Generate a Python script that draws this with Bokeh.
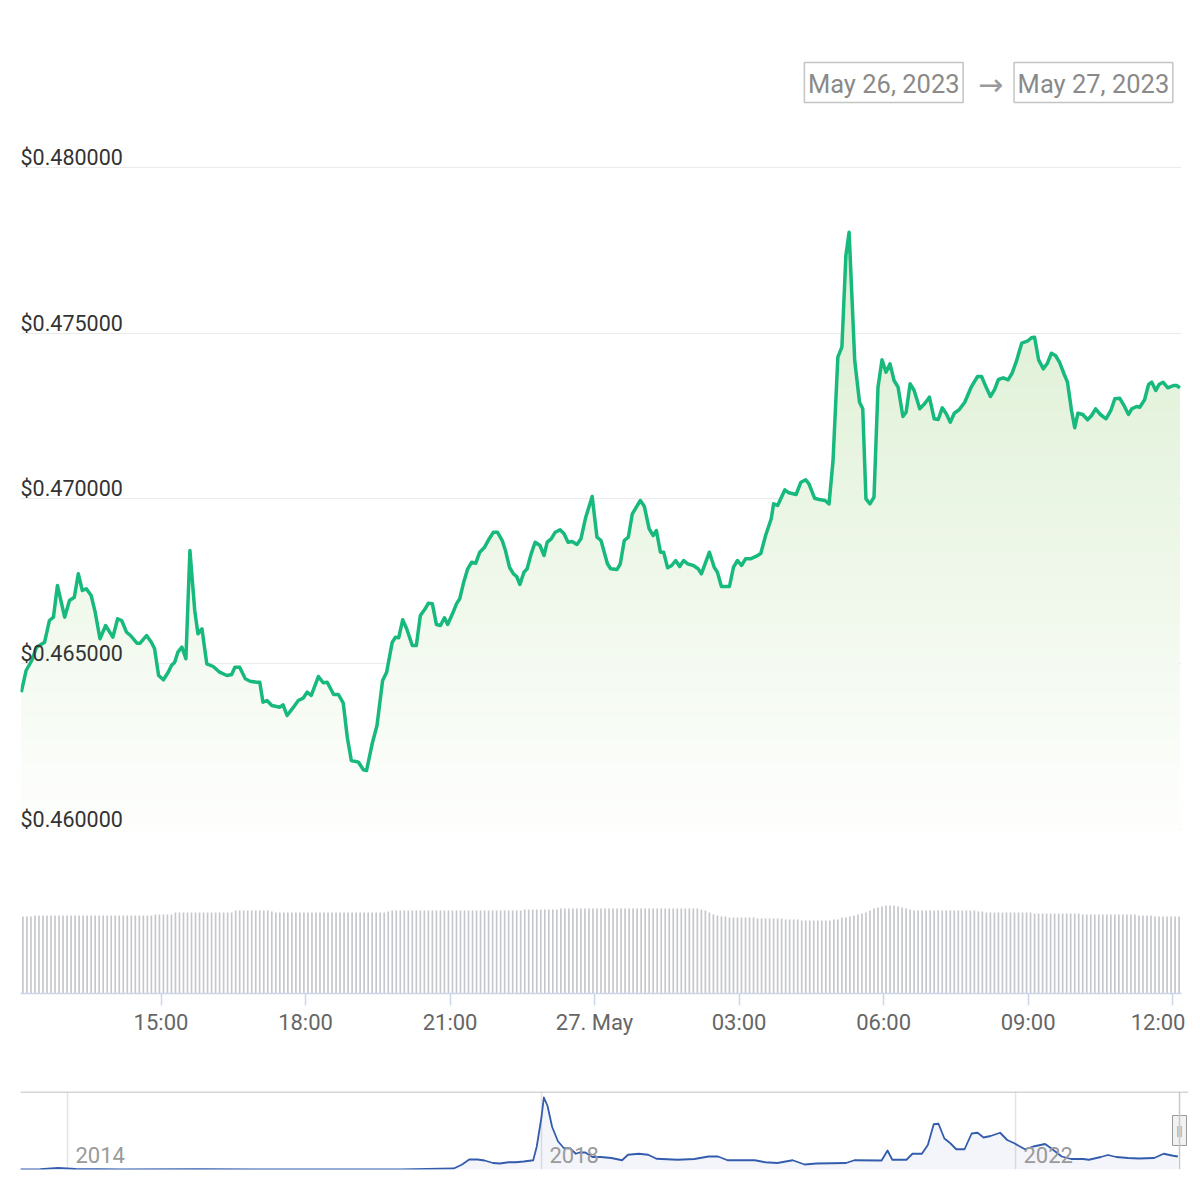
import numpy as np
import pandas as pd
from bokeh.plotting import figure
from bokeh.layouts import column
from bokeh.models import Range1d, FixedTicker, Grid, Span
from bokeh.core.properties import value
from bokeh.embed import file_html
from bokeh.resources import INLINE

FONT = "Roboto"

# ---------------- data ----------------
date_from_label = "May 26, 2023"
date_to_label = "May 27, 2023"
arrow_label = "\u2192"

# minutes after 2023-05-26 00:00
price_minutes = [
    726, 732, 739, 745, 755, 761, 766, 771, 780, 786,
    792, 797, 802, 807, 813, 818, 824, 831, 840, 846,
    851, 857, 862, 870, 874, 882, 888, 892, 897, 903,
    909, 913, 917, 921, 926, 931, 936, 942, 946, 951,
    957, 965, 973, 982, 988, 992, 998, 1005, 1011, 1019,
    1023, 1027, 1032, 1038, 1048, 1052, 1057, 1065, 1071, 1077,
    1082, 1087, 1096, 1102, 1107, 1115, 1121, 1127, 1132, 1137,
    1141, 1146, 1152, 1156, 1163, 1169, 1176, 1181, 1188, 1192,
    1196, 1201, 1206, 1213, 1218, 1223, 1229, 1233, 1238, 1243,
    1248, 1253, 1257, 1263, 1268, 1272, 1277, 1282, 1287, 1292,
    1297, 1303, 1308, 1314, 1319, 1325, 1329, 1334, 1339, 1343,
    1347, 1352, 1356, 1361, 1366, 1372, 1377, 1381, 1386, 1391,
    1397, 1402, 1407, 1412, 1418, 1423, 1429, 1437, 1443, 1448,
    1456, 1460, 1468, 1472, 1477, 1482, 1487, 1497, 1502, 1508,
    1513, 1517, 1522, 1526, 1531, 1536, 1541, 1546, 1551, 1556,
    1563, 1569, 1573, 1583, 1589, 1593, 1598, 1608, 1613, 1618,
    1623, 1628, 1634, 1641, 1647, 1653, 1660, 1663, 1668, 1677,
    1682, 1691, 1697, 1703, 1707, 1714, 1720, 1727, 1732, 1737,
    1743, 1748, 1753, 1757, 1760, 1764, 1770, 1774, 1778, 1783,
    1788, 1793, 1798, 1803, 1808, 1813, 1818, 1824, 1828, 1833,
    1838, 1845, 1851, 1857, 1863, 1868, 1873, 1878, 1883, 1888,
    1894, 1901, 1909, 1917, 1922, 1928, 1933, 1938, 1943, 1949,
    1955, 1960, 1965, 1972, 1979, 1984, 1988, 1993, 1999, 2004,
    2009, 2014, 2019, 2025, 2029, 2034, 2038, 2042, 2048, 2054,
    2059, 2064, 2070, 2077, 2083, 2088, 2094, 2100, 2105, 2109,
    2115, 2119, 2125, 2130, 2134, 2139, 2143, 2148, 2154, 2161,
    2165, 2169,
]

price_usd = [
    0.464148, 0.464804, 0.465106, 0.465508, 0.465659, 0.466314, 0.466414, 0.467372, 0.466414, 0.466918,
    0.467018, 0.467725, 0.467221, 0.467272, 0.467069, 0.466565, 0.465761, 0.466163, 0.465810, 0.466366,
    0.466314, 0.465961, 0.465861, 0.465628, 0.465628, 0.465861, 0.465659, 0.465459, 0.464653, 0.464523,
    0.464752, 0.464955, 0.465054, 0.465356, 0.465508, 0.465157, 0.468429, 0.466616, 0.465912, 0.466063,
    0.465006, 0.464924, 0.464752, 0.464653, 0.464683, 0.464903, 0.464903, 0.464553, 0.464480, 0.464450,
    0.464450, 0.463846, 0.463897, 0.463746, 0.463695, 0.463767, 0.463444, 0.463695, 0.463897, 0.463967,
    0.464148, 0.464048, 0.464622, 0.464432, 0.464450, 0.464079, 0.464079, 0.463816, 0.462789, 0.462085,
    0.462064, 0.462033, 0.461804, 0.461782, 0.462589, 0.463142, 0.464502, 0.464752, 0.465659, 0.465810,
    0.465792, 0.466335, 0.466063, 0.465559, 0.465559, 0.466465, 0.466668, 0.466837, 0.466818, 0.466193,
    0.466163, 0.466396, 0.466193, 0.466517, 0.466818, 0.466970, 0.467471, 0.467876, 0.468076, 0.468046,
    0.468378, 0.468529, 0.468752, 0.468982, 0.468982, 0.468731, 0.468429, 0.467924, 0.467725, 0.467644,
    0.467402, 0.467773, 0.467876, 0.468329, 0.468680, 0.468580, 0.468278, 0.468680, 0.468782, 0.468982,
    0.469054, 0.468933, 0.468680, 0.468701, 0.468610, 0.468782, 0.469435, 0.470060, 0.468831, 0.468731,
    0.468027, 0.467876, 0.467855, 0.468027, 0.468731, 0.468831, 0.469538, 0.469940, 0.469758, 0.469085,
    0.468882, 0.469033, 0.468378, 0.468378, 0.467906, 0.467976, 0.468127, 0.467946, 0.468127, 0.468027,
    0.467976, 0.467876, 0.467725, 0.468378, 0.467924, 0.467773, 0.467341, 0.467341, 0.467924, 0.468127,
    0.467976, 0.468178, 0.468178, 0.468248, 0.468338, 0.468882, 0.469387, 0.469840, 0.469789, 0.470263,
    0.470172, 0.470121, 0.470492, 0.470565, 0.470444, 0.470009, 0.469970, 0.469940, 0.469840, 0.471148,
    0.474269, 0.474571, 0.477341, 0.478045, 0.476384, 0.474169, 0.472909, 0.472710, 0.469991, 0.469840,
    0.470039, 0.473363, 0.474190, 0.473816, 0.474069, 0.473565, 0.473363, 0.472477, 0.472607, 0.473465,
    0.473263, 0.472710, 0.472861, 0.473060, 0.472408, 0.472387, 0.472740, 0.472559, 0.472305, 0.472577,
    0.472680, 0.472909, 0.473363, 0.473686, 0.473686, 0.473344, 0.473082, 0.473284, 0.473595, 0.473646,
    0.473586, 0.473785, 0.474118, 0.474692, 0.474752, 0.474855, 0.474873, 0.474190, 0.473918, 0.474088,
    0.474390, 0.474320, 0.474118, 0.473746, 0.473514, 0.472659, 0.472136, 0.472577, 0.472538, 0.472378,
    0.472508, 0.472710, 0.472538, 0.472408, 0.472659, 0.473012, 0.473030, 0.472780, 0.472538, 0.472710,
    0.472780, 0.472759, 0.472982, 0.473444, 0.473514, 0.473263, 0.473444, 0.473514, 0.473344, 0.473414,
    0.473414, 0.473344,
]

y_ticks = [0.460, 0.465, 0.470, 0.475, 0.480]
y_tick_labels = ["$0.460000", "$0.465000", "$0.470000", "$0.475000", "$0.480000"]

x_tick_times = ["2023-05-26 15:00", "2023-05-26 18:00", "2023-05-26 21:00", "2023-05-27 00:00",
                "2023-05-27 03:00", "2023-05-27 06:00", "2023-05-27 09:00", "2023-05-27 12:00"]
x_tick_labels = ["15:00", "18:00", "21:00", "27. May", "03:00", "06:00", "09:00", "12:00"]

# 24h volume (USD bn), one bar every 5 minutes from 2023-05-26 12:08
volume_first_bar = "2023-05-26 12:08"
volume_bn = [
    0.77, 0.77, 0.77, 0.78, 0.78, 0.78, 0.78, 0.78, 0.78, 0.78, 0.78, 0.78,
    0.78, 0.78, 0.78, 0.78, 0.78, 0.78, 0.78, 0.78, 0.78, 0.78, 0.78, 0.78,
    0.78, 0.78, 0.78, 0.78, 0.78, 0.78, 0.78, 0.78, 0.78, 0.79, 0.79, 0.79,
    0.79, 0.79, 0.81, 0.81, 0.81, 0.81, 0.81, 0.81, 0.81, 0.81, 0.81, 0.81,
    0.81, 0.81, 0.81, 0.81, 0.81, 0.83, 0.83, 0.83, 0.83, 0.83, 0.83, 0.83,
    0.83, 0.83, 0.82, 0.81, 0.81, 0.81, 0.81, 0.81, 0.81, 0.81, 0.81, 0.81,
    0.81, 0.81, 0.81, 0.81, 0.81, 0.81, 0.81, 0.81, 0.81, 0.81, 0.81, 0.81,
    0.81, 0.81, 0.81, 0.81, 0.81, 0.81, 0.81, 0.82, 0.83, 0.83, 0.83, 0.83,
    0.83, 0.83, 0.83, 0.83, 0.83, 0.83, 0.83, 0.83, 0.83, 0.83, 0.83, 0.83,
    0.83, 0.83, 0.83, 0.83, 0.83, 0.83, 0.83, 0.83, 0.83, 0.83, 0.83, 0.83,
    0.83, 0.83, 0.83, 0.83, 0.83, 0.84, 0.84, 0.84, 0.84, 0.84, 0.84, 0.84,
    0.84, 0.84, 0.85, 0.85, 0.85, 0.85, 0.85, 0.85, 0.85, 0.85, 0.85, 0.85,
    0.85, 0.85, 0.85, 0.85, 0.85, 0.85, 0.85, 0.85, 0.85, 0.85, 0.85, 0.85,
    0.85, 0.85, 0.85, 0.85, 0.85, 0.85, 0.85, 0.85, 0.85, 0.85, 0.85, 0.85,
    0.85, 0.84, 0.83, 0.81, 0.79, 0.78, 0.77, 0.77, 0.76, 0.76, 0.76, 0.76,
    0.76, 0.76, 0.76, 0.75, 0.75, 0.75, 0.75, 0.75, 0.75, 0.75, 0.74, 0.74,
    0.74, 0.74, 0.73, 0.73, 0.73, 0.73, 0.73, 0.73, 0.73, 0.73, 0.74, 0.74,
    0.76, 0.76, 0.77, 0.78, 0.79, 0.80, 0.81, 0.83, 0.85, 0.86, 0.87, 0.88,
    0.88, 0.88, 0.87, 0.86, 0.85, 0.84, 0.83, 0.83, 0.83, 0.83, 0.83, 0.83,
    0.83, 0.83, 0.83, 0.83, 0.83, 0.83, 0.83, 0.83, 0.83, 0.83, 0.82, 0.82,
    0.81, 0.81, 0.81, 0.81, 0.81, 0.81, 0.81, 0.81, 0.81, 0.81, 0.81, 0.81,
    0.80, 0.80, 0.80, 0.80, 0.80, 0.80, 0.80, 0.80, 0.80, 0.80, 0.80, 0.80,
    0.79, 0.79, 0.79, 0.79, 0.79, 0.79, 0.79, 0.79, 0.79, 0.79, 0.79, 0.79,
    0.79, 0.79, 0.78, 0.78, 0.78, 0.78, 0.77, 0.77, 0.77, 0.77, 0.77, 0.77,
    0.77,
]

# navigator: full price history (decimal year, USD)
nav_years = [
    2013.60, 2013.77, 2013.92, 2014.07, 2014.45, 2015.12, 2015.97, 2016.81, 2017.26, 2017.33,
    2017.39, 2017.46, 2017.52, 2017.59, 2017.65, 2017.72, 2017.78, 2017.85, 2017.93, 2017.96,
    2018.00, 2018.02, 2018.05, 2018.09, 2018.14, 2018.19, 2018.24, 2018.29, 2018.32, 2018.37,
    2018.43, 2018.50, 2018.59, 2018.68, 2018.73, 2018.82, 2018.90, 2018.97, 2019.15, 2019.29,
    2019.41, 2019.49, 2019.57, 2019.80, 2019.89, 2019.99, 2020.12, 2020.22, 2020.32, 2020.57,
    2020.64, 2020.87, 2020.92, 2020.96, 2021.08, 2021.13, 2021.21, 2021.26, 2021.31, 2021.35,
    2021.40, 2021.45, 2021.50, 2021.57, 2021.63, 2021.68, 2021.73, 2021.79, 2021.87, 2021.93,
    2021.99, 2022.03, 2022.08, 2022.15, 2022.25, 2022.30, 2022.39, 2022.47, 2022.57, 2022.62,
    2022.72, 2022.78, 2022.85, 2022.95, 2023.04, 2023.17, 2023.25, 2023.33, 2023.37,
]
nav_price = [
    0.005, 0.01, 0.06, 0.02, 0.005, 0.01, 0.006, 0.007, 0.04, 0.20,
    0.40, 0.40, 0.36, 0.26, 0.24, 0.29, 0.29, 0.32, 0.37, 0.92,
    2.10, 2.88, 2.56, 1.70, 1.12, 0.85, 0.85, 0.63, 0.68, 0.68,
    0.50, 0.50, 0.46, 0.37, 0.59, 0.63, 0.59, 0.43, 0.39, 0.42,
    0.52, 0.52, 0.37, 0.37, 0.29, 0.26, 0.37, 0.20, 0.24, 0.26,
    0.37, 0.36, 0.76, 0.39, 0.39, 0.63, 0.63, 0.98, 1.81, 1.83,
    1.24, 1.05, 0.81, 0.81, 1.44, 1.47, 1.28, 1.34, 1.47, 1.18,
    1.05, 0.94, 0.81, 0.92, 1.02, 0.85, 0.52, 0.42, 0.42, 0.39,
    0.50, 0.58, 0.50, 0.46, 0.44, 0.46, 0.63, 0.55, 0.52,
]
nav_tick_years = [2014, 2018, 2022]
nav_tick_labels = ["2014", "2018", "2022"]

# ---------------- helpers ----------------
def ms(ts):
    return pd.Timestamp(ts).value / 1e6

base_ms = ms("2023-05-26 00:00")
t_price = np.array([base_ms + m * 60000.0 for m in price_minutes])
p_price = np.array(price_usd)
t_vol = np.array([ms(t) for t in pd.date_range(volume_first_bar, periods=len(volume_bn), freq="5min")])
x_ticks_ms = [ms(t) for t in x_tick_times]

W = 1192
LINE_GREEN = "#17b97d"

# ---------------- header (date range boxes) ----------------
HH = 140
hdr = figure(width=W, height=HH, x_range=Range1d(0, W), y_range=Range1d(HH, 0),
             output_backend="svg", toolbar_location=None,
             min_border=0, min_border_left=0, min_border_right=0,
             min_border_top=0, min_border_bottom=0,
             x_axis_location=None, y_axis_location=None)
hdr.outline_line_color = None
hdr.grid.visible = False
hdr.rect(x=[881, 1095], y=[82, 82], width=[162, 162], height=[40, 40],
         fill_color=None, line_color="#c4c4c4", line_width=1.5)
hdr.text(x=[881, 1095], y=[83, 83], text=[date_from_label, date_to_label],
         text_align="center", text_baseline="middle", text_font=value(FONT),
         text_font_size="25.5px", text_color="#8a8a8a")
hdr.text(x=[990], y=[84], text=[arrow_label], text_align="center", text_baseline="middle",
         text_font=value("DejaVu Sans"), text_font_size="30px", text_color="#9a9a9a")

# ---------------- main price + volume chart ----------------
t0 = ms("2023-05-26 12:05")
t1 = ms("2023-05-27 12:11")
y_lo, y_hi = 0.455045, 0.480816
p = figure(width=1185, height=920, x_range=Range1d(t0, t1), y_range=Range1d(y_lo, y_hi),
           output_backend="svg", toolbar_location=None,
           min_border=0, min_border_left=20, min_border_right=0, min_border_top=0,
           min_border_bottom=67, y_axis_location=None)
p.outline_line_color = None
p.grid.visible = False
p.add_layout(Grid(dimension=1, ticker=FixedTicker(ticks=y_ticks),
                  grid_line_color="#ebebeb", grid_line_width=1))

p.extra_y_ranges = {"vol": Range1d(0, 8.53)}

# gradient fill under the price line (layered bands)
fill_base = 0.4595
top_rgb = np.array([214, 236, 202])
white = np.array([255, 255, 255])
n_bands = 60
his = np.linspace(y_hi, fill_base, n_bands, endpoint=False)
for hi in his:
    t = (hi - fill_base) / (y_hi - fill_base)
    c = white + t * (top_rgb - white)
    col = "#%02x%02x%02x" % tuple(int(round(v)) for v in c)
    p.varea(x=t_price, y1=fill_base, y2=np.minimum(p_price, hi), fill_color=col, fill_alpha=1.0)

# volume bars
p.vbar(x=t_vol, top=volume_bn, bottom=0, width=5 * 60000 * 0.42, y_range_name="vol",
       fill_color="#c6c7cc", line_color=None)

# price line
p.line(t_price, p_price, line_color=LINE_GREEN, line_width=3.5, line_join="round")

# y labels drawn above the grid lines
p.text(x=[t0] * len(y_ticks), y=y_ticks, text=y_tick_labels, text_align="left",
       text_baseline="alphabetic", y_offset=-10, text_font=value(FONT),
       text_font_size="21.5px", text_color="#333333")

xa = p.xaxis[0]
xa.ticker = FixedTicker(ticks=x_ticks_ms)
xa.major_label_overrides = {float(v): lab for v, lab in zip(x_ticks_ms, x_tick_labels)}
xa.axis_line_color = "#ccd6eb"
xa.axis_line_width = 1.5
xa.major_tick_line_color = "#ccd6eb"
xa.major_tick_line_width = 1.5
xa.major_tick_out = 12
xa.major_tick_in = 0
xa.minor_tick_line_color = None
xa.major_label_standoff = 4
xa.major_label_text_font = FONT
xa.major_label_text_font_size = "22px"
xa.major_label_text_color = "#666666"

# ---------------- navigator ----------------
nav_x0, nav_x1 = 2013.6034, 2023.4599
nav_top = 3.12
nav = figure(width=W, height=130, x_range=Range1d(nav_x0, nav_x1), y_range=Range1d(0, nav_top),
             output_backend="svg", toolbar_location=None,
             min_border=0, min_border_left=20, min_border_right=4, min_border_top=31,
             min_border_bottom=21, x_axis_location=None, y_axis_location=None)
nav.outline_line_color = None
nav.grid.visible = False
nav.add_layout(Grid(dimension=0, ticker=FixedTicker(ticks=nav_tick_years),
                    grid_line_color="#e3e3e3", grid_line_width=1.5))
nav.varea(x=nav_years, y1=0, y2=nav_price, fill_color="#335cad", fill_alpha=0.06)
nav.line(nav_years, nav_price, line_color="#335cad", line_width=1.8, line_join="round")
nav.text(x=nav_tick_years, y=[0.60] * len(nav_tick_years), text=nav_tick_labels, x_offset=8,
         text_baseline="alphabetic", text_align="left", text_font=value(FONT),
         text_font_size="22px", text_color="#9a9a9a")
handle_x = 2023.384
nav.add_layout(Span(location=nav_top - 0.02, dimension="width", line_color="#c8c8c8", line_width=1.5))
nav.add_layout(Span(location=handle_x, dimension="height", line_color="#c8c8c8", line_width=1.5))
nav.rect(x=[handle_x], y=[1.56], width=14, height=30, width_units="screen", height_units="screen",
         fill_color="#f2f2f2", line_color="#999999", line_width=1)
nav.text(x=[handle_x], y=[1.56], text=["||"], text_align="center", text_baseline="middle",
         text_font=value(FONT), text_font_size="13px", text_color="#999999")

layout = column(hdr, p, nav)
open("out.html", "w").write(file_html(layout, INLINE))
